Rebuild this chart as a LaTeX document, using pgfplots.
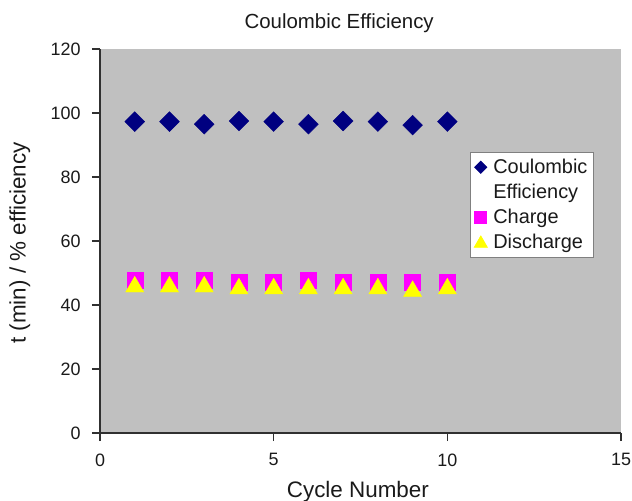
\documentclass[border=0pt]{standalone}
\usepackage{fontspec}
\setmainfont{Liberation Sans}
\usepackage{pgfplots}
\pgfplotsset{compat=1.18}

\definecolor{plotgray}{HTML}{C0C0C0}
\definecolor{cenavy}{HTML}{000080}
\definecolor{chmag}{HTML}{FF00FF}
\definecolor{dcyel}{HTML}{FFFF00}
\definecolor{axisdark}{HTML}{303030}
\definecolor{txt}{HTML}{1A1A1A}

\begin{document}
\begin{tikzpicture}
\path[use as bounding box] (0,0) rectangle (632bp,501bp);
\begin{axis}[
  at={(100bp,68bp)}, anchor=south west,
  scale only axis,
  width=521bp, height=384bp,
  xmin=0, xmax=15, ymin=0, ymax=120,
  xtick={0,5,10,15}, ytick={0,20,...,120},
  axis x line=bottom, axis y line=left,
  axis line style={-, axisdark, line width=1.4bp},
  tick style={axisdark, line width=1.4bp},
  major tick length=8bp,
  xtick align=outside, ytick align=outside,
  axis background/.style={fill=plotgray},
  /pgf/number format/assume math mode=true,
  ticklabel style={font=\fontsize{18}{20}\selectfont, text=txt},
  xticklabel style={yshift=-9bp},
  yticklabel style={xshift=-8bp},
  title={Coulombic Efficiency},
  title style={at={(axis description cs:0.459,1.052)}, anchor=center,
    font=\fontsize{20.5}{24}\selectfont, text=txt},
  xlabel={Cycle Number},
  xlabel style={at={(axis description cs:0.495,-0.152)}, anchor=center,
    font=\fontsize{22.5}{26}\selectfont, text=txt},
  ylabel={t (min) / \% efficiency},
  ylabel style={at={(axis description cs:-0.154,0.495)}, anchor=center, rotate=0,
    font=\fontsize{22.5}{26}\selectfont, text=txt},
  clip=false,
  legend style={at={(axis description cs:0.710,0.732)}, anchor=north west,
    draw=gray, line width=0.8bp, fill=white,
    font=\fontsize{20}{22}\selectfont, text=txt,
    inner xsep=4bp, inner ysep=5bp,
    row sep=5bp, column sep=4bp,
    cells={anchor=west}},
  legend cell align=left,
  legend image code/.code={\draw[#1] plot coordinates {(6bp,0bp)}; \path (0bp,0bp) (12bp,0bp);},
]
% Coulombic efficiency per cycle
\addplot[only marks, color=cenavy, mark=square*, mark size=7bp, mark options={rotate=45, fill=cenavy}, forget plot]
  coordinates {(1,97.3) (2,97.3) (3,96.5) (4,97.5) (5,97.3) (6,96.5) (7,97.5) (8,97.3) (9,96.2) (10,97.3)};
% Charge time
\addplot[only marks, color=chmag, mark=square*, mark size=8bp, mark options={fill=chmag}, forget plot]
  coordinates {(1,47.9) (2,47.7) (3,47.7) (4,47.2) (5,47.2) (6,47.7) (7,47.2) (8,47.2) (9,47.2) (10,47.2)};
% Discharge time
\addplot[only marks, color=dcyel, mark=triangle*, mark size=10.5bp, mark options={fill=dcyel, yshift=-2.6bp}, forget plot]
  coordinates {(1,46.5) (2,46.5) (3,46.5) (4,45.9) (5,45.9) (6,45.9) (7,45.9) (8,45.9) (9,45.1) (10,45.9)};

\addlegendimage{only marks, color=cenavy, mark=square*, mark size=4.3bp, mark options={rotate=45, fill=cenavy}}
\addlegendentry{Coulombic}
\addlegendimage{empty legend}
\addlegendentry{Efficiency}
\addlegendimage{only marks, color=chmag, mark=square*, mark size=6bp, mark options={fill=chmag}}
\addlegendentry{Charge}
\addlegendimage{only marks, color=dcyel, mark=triangle*, mark size=7.5bp, mark options={fill=dcyel, yshift=-1.5bp}}
\addlegendentry{Discharge}
\end{axis}
\end{tikzpicture}
\end{document}
